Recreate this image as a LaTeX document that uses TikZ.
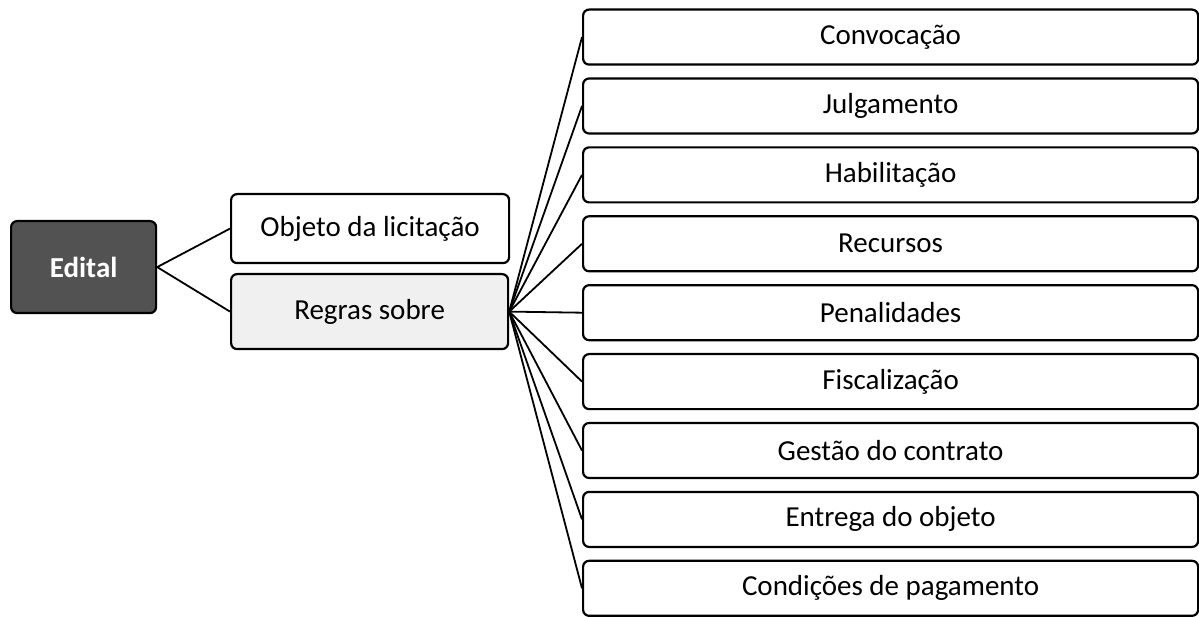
\documentclass[tikz,border=0pt]{standalone}
\usepackage{fontspec}
\setmainfont{Carlito}
\begin{document}
\begin{tikzpicture}[x=1pt,y=-1pt,
  box/.style={draw=black, line width=2.2pt, rounded corners=6pt, inner sep=0pt, anchor=north west},
  conn/.style={draw=black, line width=1.8pt},
  txt/.style={font=\fontsize{29}{34}\selectfont}]
\useasboundingbox[fill=white] (0,0) rectangle (1199,617);
% root
\node[box, fill=black!68, minimum width=145pt, minimum height=92pt, font=\fontsize{29}{34}\selectfont\bfseries, text=white] (edital) at (10,220) {Edital};
% middle
\node[box, fill=white, minimum width=278pt, minimum height=69pt, txt] (objeto) at (230,193) {Objeto da licitação};
\node[box, fill=black!6, minimum width=277pt, minimum height=75pt, txt] (regras) at (230,273) {Regras sobre};
% right boxes
\foreach \i/\t in {0/Convocação,1/Julgamento,2/Habilitação,3/Recursos,4/Penalidades,5/Fiscalização,6/Gestão do contrato,7/Entrega do objeto,8/Condições de pagamento}{
  \node[box, fill=white, minimum width=615pt, minimum height=55pt, txt] (r\i) at (582,{8.5+68.9*\i}) {\t};
}
\draw[conn] (edital.east) -- (objeto.west);
\draw[conn] (edital.east) -- (regras.west);
\foreach \i in {0,...,8}{
  \draw[conn] (regras.east) -- (r\i.west);
}
\end{tikzpicture}
\end{document}
